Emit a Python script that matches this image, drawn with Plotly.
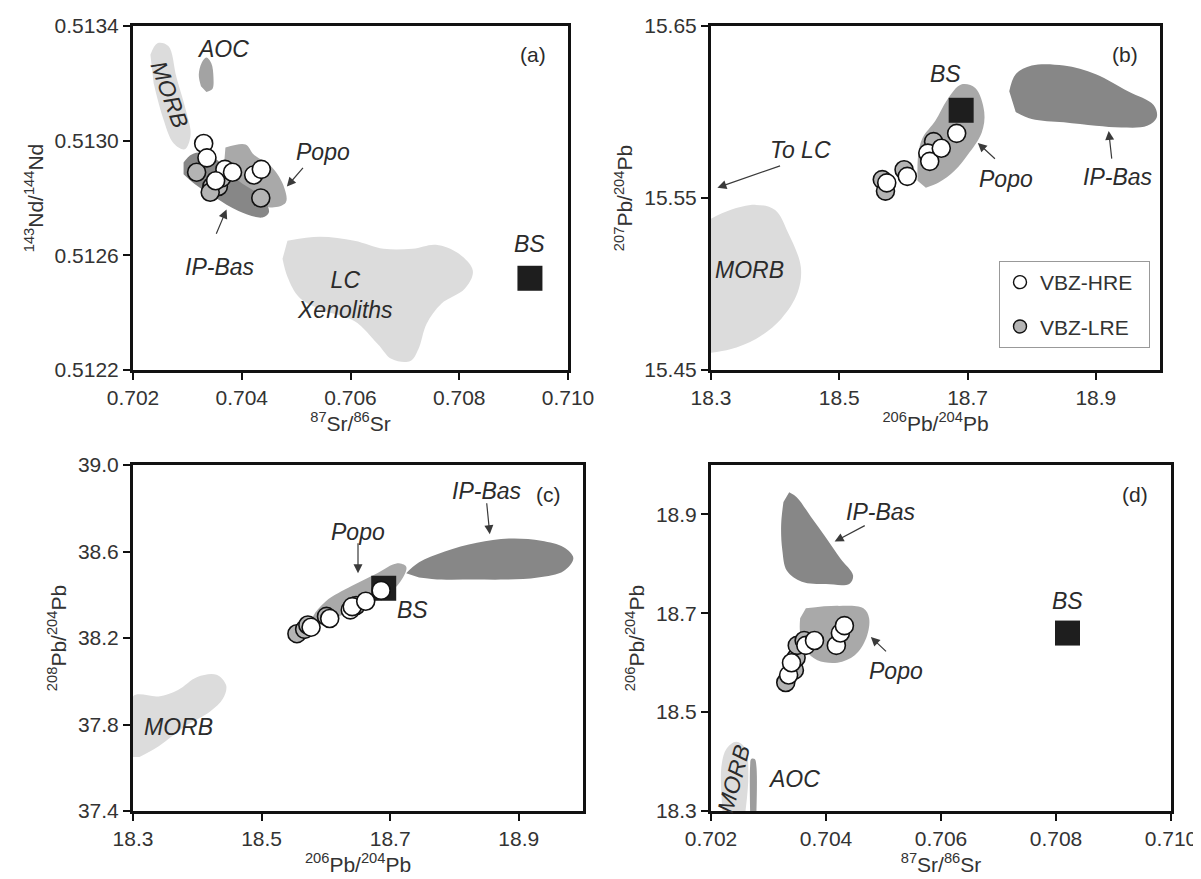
import plotly.graph_objects as go

FONT = "Liberation Sans, Arial, sans-serif"
TXT = "#2b2b2b"
LIGHT = "#dcdcdc"
MED = "#a9a9a9"
DARK = "#878787"
LRE_FILL = "#b4b4b4"

# ---------------- Panel (a): 87Sr/86Sr vs 143Nd/144Nd ----------------
a_hre_sr = [0.70330, 0.70336, 0.70369, 0.70383, 0.70422, 0.70436, 0.70352]
a_hre_nd = [0.51299, 0.51294, 0.51290, 0.51289, 0.51288, 0.51290, 0.51286]
a_lre_sr = [0.70317, 0.70345, 0.70357, 0.70342, 0.70363, 0.70435]
a_lre_nd = [0.51289, 0.51284, 0.51284, 0.51282, 0.51287, 0.51280]

a_morb_sr = [0.70232, 0.70245, 0.70265, 0.70280, 0.70298, 0.70306, 0.70295, 0.70275, 0.70255, 0.70238]
a_morb_nd = [0.51330, 0.51334, 0.51333, 0.51322, 0.51310, 0.51302, 0.51297, 0.51299, 0.51308, 0.51320]
a_aoc_sr = [0.70325, 0.70321, 0.70326, 0.70335, 0.70344, 0.70348, 0.70346, 0.70335]
a_aoc_nd = [0.51319, 0.51323, 0.51327, 0.51329, 0.51327, 0.51322, 0.51318, 0.51317]
a_popo_sr = [0.70370, 0.70407, 0.70422, 0.70456, 0.70478, 0.70481, 0.70456, 0.70419, 0.70388, 0.70367]
a_popo_nd = [0.512976, 0.512987, 0.512952, 0.512906, 0.512837, 0.512784, 0.512767, 0.512790, 0.512837, 0.512906]
a_ipbas_sr = [0.70293, 0.70308, 0.70333, 0.70364, 0.70394, 0.70438, 0.70450, 0.70438, 0.70394, 0.70351, 0.70314, 0.70293]
a_ipbas_nd = [0.512924, 0.512952, 0.512958, 0.512918, 0.512860, 0.512802, 0.512750, 0.512732, 0.512755, 0.512802, 0.512848, 0.512883]
a_lc_sr = [0.70484, 0.70543, 0.70607, 0.70661, 0.70714, 0.70757, 0.70799, 0.70825, 0.70810, 0.70767,
           0.70740, 0.70725, 0.70710, 0.70676, 0.70650, 0.70607, 0.70543, 0.70505, 0.70484, 0.70475]
a_lc_nd = [0.512651, 0.512665, 0.512651, 0.512623, 0.512623, 0.512637, 0.512606, 0.512546, 0.512483, 0.512431,
           0.512361, 0.512273, 0.512231, 0.512238, 0.512291, 0.512371, 0.512413, 0.512455, 0.512525, 0.512588]
a_bs_sr = [0.7093]
a_bs_nd = [0.51252]

# ---------------- Panel (b): 206Pb/204Pb vs 207Pb/204Pb ----------------
b_hre_206 = [18.574, 18.606, 18.638, 18.641, 18.659, 18.683]
b_hre_207 = [15.5588, 15.5626, 15.5761, 15.5713, 15.5789, 15.5876]
b_lre_206 = [18.567, 18.572, 18.601, 18.647]
b_lre_207 = [15.5607, 15.5540, 15.5664, 15.5828]

b_morb_206 = [18.30, 18.33, 18.37, 18.40, 18.42, 18.44, 18.435, 18.41, 18.37, 18.33, 18.30]
b_morb_207 = [15.538, 15.543, 15.546, 15.543, 15.530, 15.510, 15.495, 15.480, 15.468, 15.462, 15.460]
b_popo_206 = [18.622, 18.623, 18.630, 18.650, 18.668, 18.690, 18.712, 18.726, 18.722, 18.700, 18.680, 18.655, 18.635]
b_popo_207 = [15.560, 15.575, 15.585, 15.595, 15.607, 15.616, 15.614, 15.600, 15.588, 15.575, 15.566, 15.559, 15.556]
b_ipbas_206 = [18.765, 18.775, 18.80, 18.85, 18.90, 18.95, 18.99, 18.995, 18.98, 18.94, 18.90, 18.85, 18.80, 18.775]
b_ipbas_207 = [15.612, 15.622, 15.627, 15.627, 15.622, 15.612, 15.604, 15.597, 15.592, 15.591, 15.592, 15.594, 15.596, 15.600]
b_bs_206 = [18.69]
b_bs_207 = [15.601]

# ---------------- Panel (c): 206Pb/204Pb vs 208Pb/204Pb ----------------
c_hre_206 = [18.577, 18.606, 18.638, 18.641, 18.662, 18.686]
c_hre_208 = [38.25, 38.29, 38.33, 38.345, 38.37, 38.42]
c_lre_206 = [18.555, 18.567, 18.572, 18.601, 18.647]
c_lre_208 = [38.22, 38.24, 38.26, 38.30, 38.35]

c_morb_206 = [18.30, 18.30, 18.34, 18.37, 18.40, 18.43, 18.445, 18.44, 18.42, 18.38, 18.34, 18.31]
c_morb_208 = [37.65, 37.93, 37.93, 37.96, 38.02, 38.03, 37.98, 37.92, 37.86, 37.79, 37.70, 37.65]
c_popo_206 = [18.575, 18.58, 18.60, 18.64, 18.68, 18.71, 18.725, 18.72, 18.70, 18.66, 18.62, 18.59]
c_popo_208 = [38.25, 38.30, 38.37, 38.44, 38.50, 38.545, 38.53, 38.48, 38.41, 38.35, 38.30, 38.26]
c_ipbas_206 = [18.725, 18.745, 18.785, 18.835, 18.885, 18.935, 18.97, 18.985, 18.97, 18.93, 18.88, 18.83, 18.78, 18.745]
c_ipbas_208 = [38.50, 38.55, 38.60, 38.64, 38.66, 38.65, 38.62, 38.57, 38.51, 38.48, 38.47, 38.47, 38.47, 38.48]
c_bs_206 = [18.69]
c_bs_208 = [38.43]

# ---------------- Panel (d): 87Sr/86Sr vs 206Pb/204Pb ----------------
d_hre_sr = [0.70335, 0.70340, 0.70365, 0.70380, 0.70418, 0.70425, 0.70432]
d_hre_206 = [18.575, 18.600, 18.635, 18.645, 18.635, 18.660, 18.675]
d_lre_sr = [0.70330, 0.70345, 0.70348, 0.70350, 0.70362]
d_lre_206 = [18.560, 18.585, 18.610, 18.635, 18.645]

d_morb_sr = [0.70220, 0.70218, 0.70227, 0.70244, 0.70260, 0.70265, 0.70260]
d_morb_206 = [18.30, 18.389, 18.426, 18.440, 18.426, 18.373, 18.30]
d_aoc_sr = [0.70268, 0.70268, 0.70270, 0.70276, 0.70279, 0.70279]
d_aoc_206 = [18.30, 18.39, 18.405, 18.405, 18.39, 18.30]
d_ipbas_sr = [0.70336, 0.70349, 0.70374, 0.70400, 0.70425, 0.70447, 0.70441, 0.70400, 0.70358, 0.70332, 0.70324, 0.70322, 0.70326]
d_ipbas_206 = [18.945, 18.935, 18.895, 18.853, 18.811, 18.777, 18.760, 18.759, 18.764, 18.786, 18.828, 18.879, 18.925]
d_popo_sr = [0.70365, 0.70420, 0.70465, 0.70475, 0.70470, 0.70450, 0.70420, 0.70385, 0.70365, 0.70355, 0.70355]
d_popo_206 = [18.71, 18.715, 18.71, 18.69, 18.65, 18.615, 18.60, 18.605, 18.625, 18.66, 18.69]
d_bs_sr = [0.7082]
d_bs_206 = [18.66]

# ---------------- Text labels (text, x, y, angle) and arrows (tail x, tail y, head x, head y) ----------------
a_labels = [("AOC", 0.70365, 0.51332, 0), ("MORB", 0.70268, 0.51316, 70), ("Popo", 0.7055, 0.51296, 0),
            ("IP-Bas", 0.7036, 0.51256, 0), ("LC<br>Xenoliths", 0.7059, 0.51246, 0), ("BS", 0.7093, 0.51264, 0)]
a_arrows = [(0.70515, 0.51291, 0.70483, 0.51284), (0.70352, 0.51267, 0.70372, 0.51276)]
b_labels = [("BS", 18.665, 15.622, 0), ("Popo", 18.76, 15.561, 0), ("To LC", 18.44, 15.578, 0),
            ("MORB", 18.36, 15.508, 0), ("IP-Bas", 18.935, 15.562, 0)]
b_arrows = [(18.745, 15.572, 18.716, 15.582), (18.41, 15.569, 18.31, 15.556), (18.925, 15.572, 18.92, 15.589)]
c_labels = [("Popo", 18.65, 38.69, 0), ("BS", 18.735, 38.33, 0), ("IP-Bas", 18.85, 38.88, 0), ("MORB", 18.37, 37.79, 0)]
c_arrows = [(18.65, 38.645, 18.65, 38.50), (18.85, 38.83, 18.855, 38.68)]
d_labels = [("IP-Bas", 0.70495, 18.904, 0), ("Popo", 0.70522, 18.583, 0), ("BS", 0.7082, 18.725, 0),
            ("MORB", 0.70240, 18.364, -75), ("AOC", 0.70345, 18.364, 0)]
d_arrows = [(0.70470, 18.879, 0.70415, 18.845), (0.70507, 18.62, 0.70478, 18.652)]

fig = go.Figure()


def field(xs, ys, color, ax):
    fig.add_trace(go.Scatter(x=xs, y=ys, mode="lines", fill="toself", fillcolor=color,
                             line=dict(width=0, color=color, shape="spline", smoothing=1.0),
                             xaxis=ax[0], yaxis=ax[1], showlegend=False, hoverinfo="skip"))


def points(xs, ys, fill, ax):
    fig.add_trace(go.Scatter(x=xs, y=ys, mode="markers",
                             marker=dict(size=18, color=fill, symbol="circle",
                                         line=dict(width=1.6, color="#111")),
                             xaxis=ax[0], yaxis=ax[1], showlegend=False))


def bs(xs, ys, ax):
    fig.add_trace(go.Scatter(x=xs, y=ys, mode="markers",
                             marker=dict(size=25, color="#1e1e1e", symbol="square", line=dict(width=0)),
                             xaxis=ax[0], yaxis=ax[1], showlegend=False))


A, B, C, D = ("x", "y"), ("x2", "y2"), ("x3", "y3"), ("x4", "y4")

# panel a
field(a_morb_sr, a_morb_nd, LIGHT, A)
field(a_aoc_sr, a_aoc_nd, "#a3a3a3", A)
field(a_lc_sr, a_lc_nd, LIGHT, A)
field(a_popo_sr, a_popo_nd, MED, A)
field(a_ipbas_sr, a_ipbas_nd, DARK, A)
bs(a_bs_sr, a_bs_nd, A)
points(a_lre_sr, a_lre_nd, LRE_FILL, A)
points(a_hre_sr, a_hre_nd, "white", A)

# panel b
field(b_morb_206, b_morb_207, LIGHT, B)
field(b_popo_206, b_popo_207, MED, B)
field(b_ipbas_206, b_ipbas_207, DARK, B)
bs(b_bs_206, b_bs_207, B)
points(b_lre_206, b_lre_207, LRE_FILL, B)
points(b_hre_206, b_hre_207, "white", B)

# panel c
field(c_morb_206, c_morb_208, LIGHT, C)
field(c_popo_206, c_popo_208, MED, C)
field(c_ipbas_206, c_ipbas_208, DARK, C)
bs(c_bs_206, c_bs_208, C)
points(c_lre_206, c_lre_208, LRE_FILL, C)
points(c_hre_206, c_hre_208, "white", C)

# panel d
field(d_morb_sr, d_morb_206, LIGHT, D)
field(d_aoc_sr, d_aoc_206, "#9d9d9d", D)
field(d_ipbas_sr, d_ipbas_206, DARK, D)
field(d_popo_sr, d_popo_206, MED, D)
bs(d_bs_sr, d_bs_206, D)
points(d_lre_sr, d_lre_206, LRE_FILL, D)
points(d_hre_sr, d_hre_206, "white", D)

# legend entries (in panel b)
NB = "\u00a0"
fig.add_trace(go.Scatter(x=[None], y=[None], mode="markers", name="VBZ-HRE" + NB * 2, legendgroup="hre",
                         marker=dict(size=13, color="white", line=dict(width=1.4, color="#111")),
                         xaxis="x2", yaxis="y2"))
fig.add_trace(go.Scatter(x=[None], y=[None], mode="markers", name="VBZ-LRE" + NB * 2, legendgroup="lre",
                         marker=dict(size=13, color=LRE_FILL, line=dict(width=1.4, color="#111")),
                         xaxis="x2", yaxis="y2"))

annotations = []
for labels, arrows, ax in [(a_labels, a_arrows, A), (b_labels, b_arrows, B),
                           (c_labels, c_arrows, C), (d_labels, d_arrows, D)]:
    for text, x, y, ang in labels:
        annotations.append(dict(text=text, x=x, y=y, xref=ax[0], yref=ax[1], showarrow=False,
                                textangle=ang, font=dict(size=23, color=TXT, family=FONT, style="italic")))
    for tx, ty, hx, hy in arrows:
        annotations.append(dict(text="", x=hx, y=hy, ax=tx, ay=ty, xref=ax[0], yref=ax[1],
                                axref=ax[0], ayref=ax[1], showarrow=True, arrowhead=2,
                                arrowsize=1.5, arrowwidth=1.2, arrowcolor="#3a3a3a", standoff=0))
for letter, ax in [("(a)", A), ("(b)", B), ("(c)", C), ("(d)", D)]:
    annotations.append(dict(text=letter, x=0.955, y=0.955, xref=ax[0] + " domain", yref=ax[1] + " domain",
                            xanchor="right", yanchor="top", showarrow=False,
                            font=dict(size=21, color=TXT, family=FONT)))

base = dict(showline=True, linewidth=3, linecolor="#111", mirror=True, ticks="outside", ticklen=7,
            tickwidth=1.5, tickcolor="#111", showgrid=False, zeroline=False, automargin=False,
            tickfont=dict(size=21, color="#333", family=FONT))

sr_ticks = [0.702, 0.704, 0.706, 0.708, 0.710]
nd_ticks = [0.5122, 0.5126, 0.5130, 0.5134]
pb6_ticks = [18.3, 18.5, 18.7, 18.9]
pb7_ticks = [15.45, 15.55, 15.65]
pb8_ticks = [37.4, 37.8, 38.2, 38.6, 39.0]


def axis(title, rng, ticks, fmt, domain, anchor):
    d = dict(base)
    d.update(title=dict(text=title, font=dict(size=21, color="#333", family=FONT), standoff=6),
             range=rng, tickmode="array", tickvals=ticks, ticktext=[format(t, fmt) for t in ticks],
             domain=domain, anchor=anchor)
    return d


W, H = 1201, 879
XA = [125 / W, 560 / W]
XB = [703 / W, 1152 / W]
XC = [125 / W, 575 / W]
XD = [703 / W, 1163 / W]
YT = [1 - 362 / H, 1 - 18 / H]
YB = [1 - 803 / H, 1 - 457 / H]

SR = "<sup>87</sup>Sr/<sup>86</sup>Sr"
P6 = "<sup>206</sup>Pb/<sup>204</sup>Pb"

fig.update_layout(
    width=W, height=H, margin=dict(l=0, r=0, t=0, b=0),
    paper_bgcolor="white", plot_bgcolor="white",
    font=dict(family=FONT, color=TXT),
    xaxis=axis(SR, [0.702, 0.710], sr_ticks, ".3f", XA, "y"),
    yaxis=axis("<sup>143</sup>Nd/<sup>144</sup>Nd", [0.5122, 0.5134], nd_ticks, ".4f", YT, "x"),
    xaxis2=axis(P6, [18.3, 19.0], pb6_ticks, ".1f", XB, "y2"),
    yaxis2=axis("<sup>207</sup>Pb/<sup>204</sup>Pb", [15.45, 15.65], pb7_ticks, ".2f", YT, "x2"),
    xaxis3=axis(P6, [18.3, 19.0], pb6_ticks, ".1f", XC, "y3"),
    yaxis3=axis("<sup>208</sup>Pb/<sup>204</sup>Pb", [37.4, 39.0], pb8_ticks, ".1f", YB, "x3"),
    xaxis4=axis(SR, [0.702, 0.710], sr_ticks, ".3f", XD, "y4"),
    yaxis4=axis(P6, [18.3, 19.0], pb6_ticks, ".1f", YB, "x4"),
    annotations=annotations,
    showlegend=True,
    legend=dict(x=1142 / W, y=1 - 253 / H, xanchor="right", yanchor="top",
                bgcolor="white", bordercolor="#999", borderwidth=1, tracegroupgap=14,
                font=dict(size=21, color="#333", family=FONT), itemwidth=30),
)

fig.write_html("out.html")
